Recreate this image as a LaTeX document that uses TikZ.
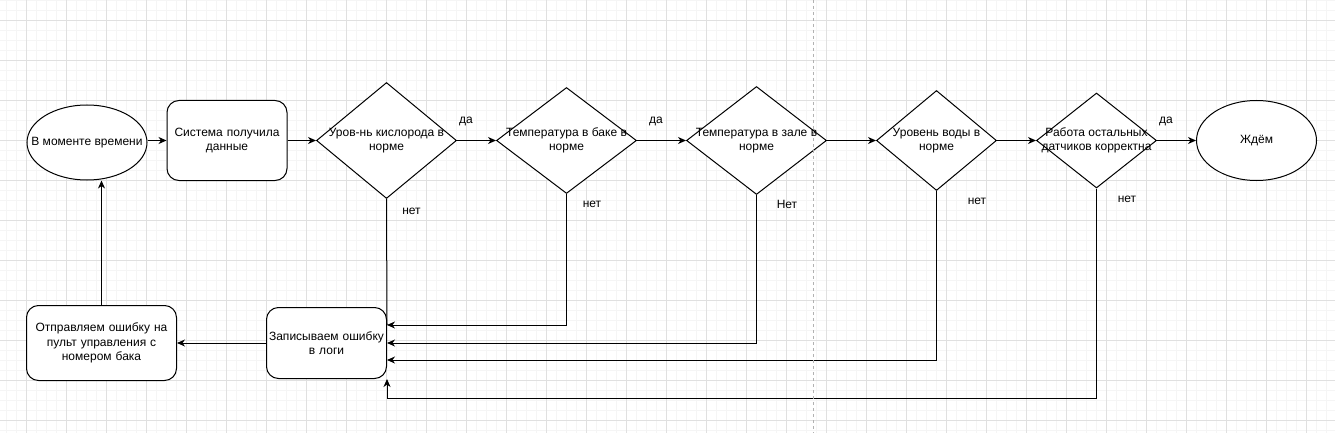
\documentclass[tikz,border=0pt]{standalone}
\usepackage{fontspec}
\setmainfont{Liberation Sans}
\usetikzlibrary{arrows.meta,shapes.geometric,positioning}

\tikzset{
	gridminor/.style={draw=black!4,line width=1pt},
	gridmajor/.style={draw=black!12,line width=1pt},
	pagebreak/.style={draw=black!30,line width=1pt,dash pattern=on 3pt off 3pt},
	txt/.style={align=center,font=\fontsize{12}{14.5}\selectfont},
	ov/.style={ellipse,draw,fill=white,line width=1pt,inner sep=0pt},
	rbox/.style={rectangle,draw,fill=white,line width=1pt,rounded corners=12pt,inner sep=0pt,txt},
	dia/.style={diamond,draw,fill=white,line width=1pt,inner sep=0pt},
	arr/.style={line width=1pt,-{Stealth[length=8pt,width=7pt,inset=2.5pt]}},
	ln/.style={line width=1pt}
}

\begin{document}
\begin{tikzpicture}[x=1pt,y=-1pt]
		\useasboundingbox (0,0) rectangle (1335,433);
		\fill[white] (0,0) rectangle (1335,433);
		% grid
		\foreach \gx in {6.5,16.5,...,1335}
			\draw[gridminor] (\gx,0) -- (\gx,433);
		\foreach \gy in {0.5,10.5,...,433}
			\draw[gridminor] (0,\gy) -- (1335,\gy);
		\foreach \gx in {26.5,66.5,...,1335}
			\draw[gridmajor] (\gx,0) -- (\gx,433);
		\foreach \gy in {20.5,60.5,...,433}
			\draw[gridmajor] (0,\gy) -- (1335,\gy);

		% top row
		\node[ov,minimum width=120pt,minimum height=75pt,label={[txt]center:В моменте времени}] (start) at (87,142.5) {};
		\node[rbox,minimum width=120pt,minimum height=80pt,text width=116pt] (recv) at (227,140.5) {Система получила\\данные};
		\node[dia,minimum width=140pt,minimum height=116pt,label={[txt]center:Уров-нь кислорода в\\норме}] (oxy) at (386.5,140.5) {};
		\node[dia,minimum width=140pt,minimum height=106pt,label={[txt]center:Температура в баке в\\норме}] (tbak) at (566.5,140.5) {};
		\node[dia,minimum width=140pt,minimum height=108pt,label={[txt]center:Температура в зале в\\норме}] (tzal) at (756.5,140.5) {};
		\node[dia,minimum width=120pt,minimum height=100pt,label={[txt]center:Уровень воды в\\норме}] (water) at (936.5,140.5) {};
		\node[dia,minimum width=120pt,minimum height=95pt,label={[txt]center:Работа остальных\\датчиков корректна}] (sens) at (1096.5,140.5) {};
		\node[ov,minimum width=120pt,minimum height=80pt,label={[txt]center:Ждём}] (wait) at (1256.5,140.5) {};

		% bottom row
		\node[rbox,minimum width=150pt,minimum height=75pt,text width=140pt] (send) at (101.5,343) {Отправляем ошибку на\\пульт управления с\\номером бака};
		\node[rbox,minimum width=120pt,minimum height=71pt,text width=116pt] (logs) at (326.5,343) {Записываем ошибку\\в логи};

		% yes branch
		\draw[arr] (start.east |- recv.west) -- (recv.west);
		\draw[arr] (recv) -- (oxy);
		\draw[arr] (oxy) -- (tbak);
		\draw[arr] (tbak) -- (tzal);
		\draw[arr] (tzal) -- (water);
		\draw[arr] (water) -- (sens);
		\draw[arr] (sens) -- (wait);
		\node[txt] (yes1) at (466,121) {да};
		\node[txt] (yes2) at (656,121) {да};
		\node[txt] (yes3) at (1166,121) {да};

		% no branch
		\coordinate (low) at (0,398);
		\draw[ln] (oxy.south) -- ([yshift=18pt]logs.east);
		\draw[arr] (tbak.south) |- ([yshift=18pt]logs.east);
		\draw[arr] (tzal.south) |- (logs.east);
		\draw[arr] (water.south) |- ([yshift=-17pt]logs.east);
		\draw[arr] (sens.south) |- (low -| logs.east) -- (logs.south east);
		\node[txt] (no1) at (411.5,211) {нет};
		\node[txt] (no2) at (592,204) {нет};
		\node[txt] (no3) at (787,204) {Нет};
		\node[txt] (no4) at (977,201) {нет};
		\node[txt] (no5) at (1127,199) {нет};

		% report
		\draw[arr] (logs.west) -- (send.east);
		\draw[arr] (send.north) -- (send.north |- start.south);

		\draw[pagebreak] (813.5,0) -- (813.5,433);
\end{tikzpicture}
\end{document}
